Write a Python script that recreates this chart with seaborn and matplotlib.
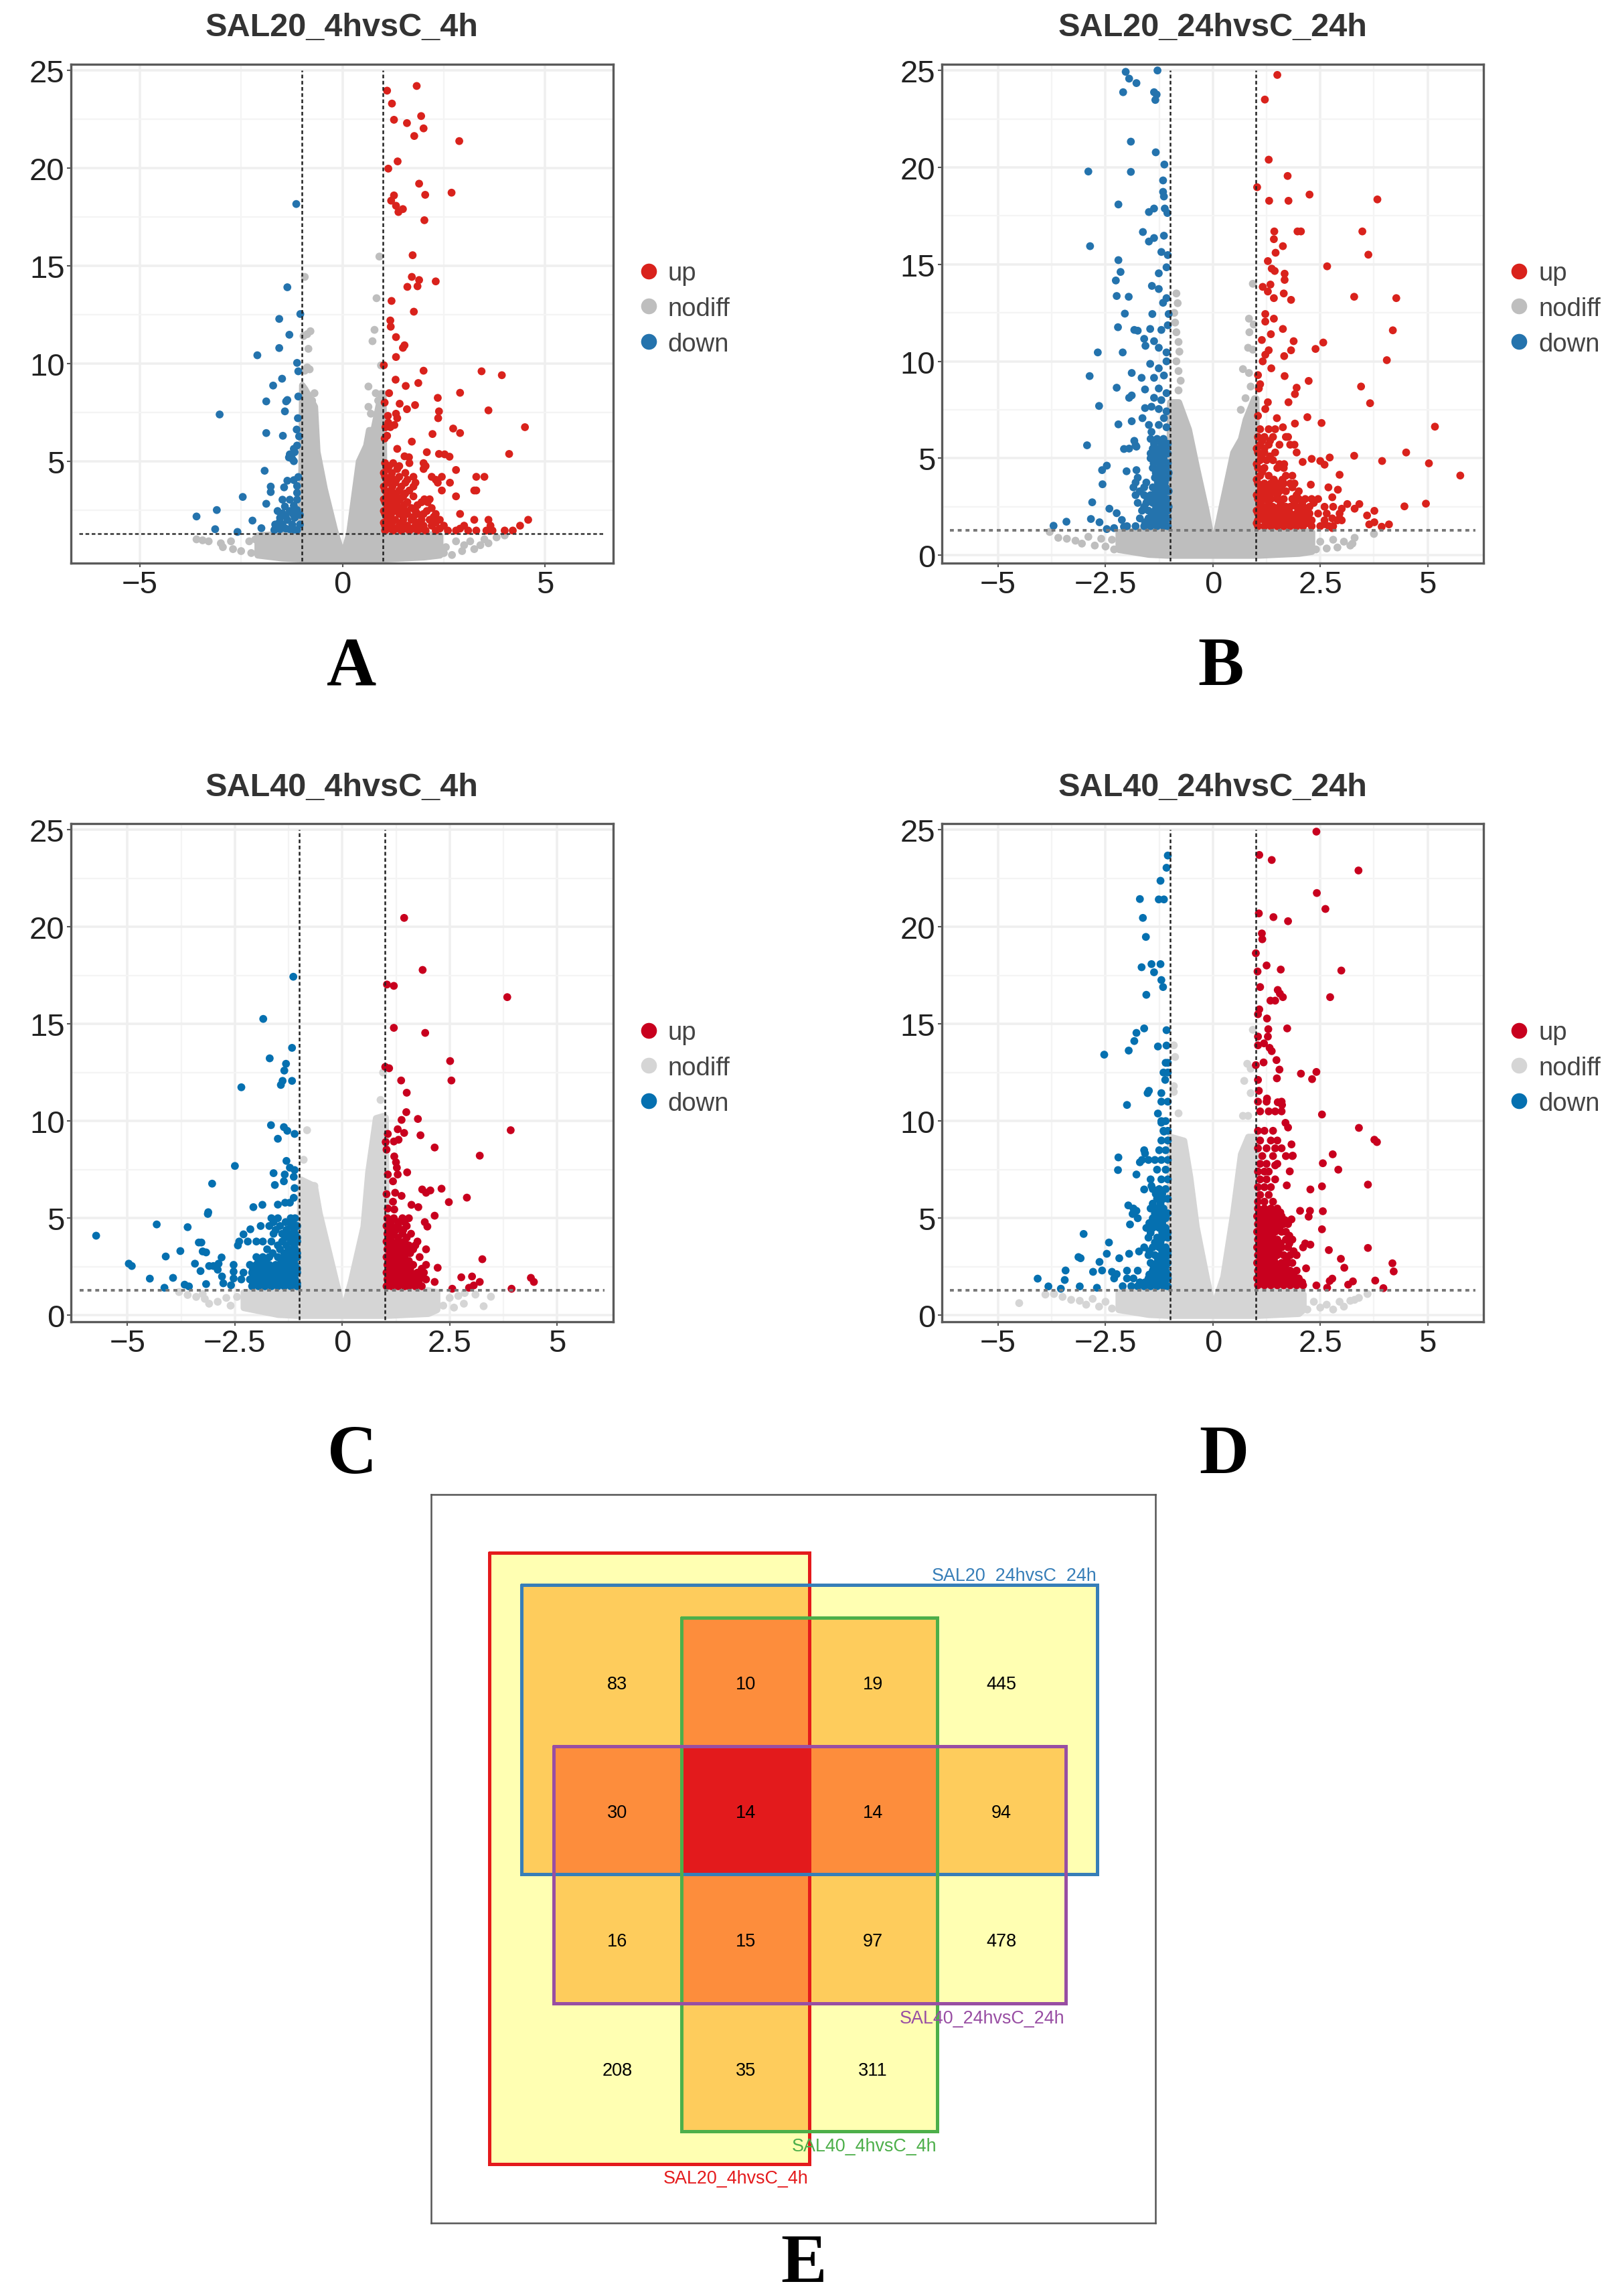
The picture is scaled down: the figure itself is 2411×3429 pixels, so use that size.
import matplotlib
matplotlib.use('Agg')
import matplotlib.pyplot as plt
from matplotlib.colors import ListedColormap
import numpy as np
import pandas as pd
import seaborn as sns

W, H = 2411, 3430

# values: (log2FC, -log10 p), rows are (y, [x, x, ...]) for the dense clusters
a_up = [(1.10,23.96),(1.83,24.2),(1.22,23.3),(1.94,22.66),(1.27,22.47),(1.59,22.3),(2.0,22.03),(1.77,21.64),(2.88,21.38),
        (1.36,20.34),(1.13,19.97),(1.89,19.2),(2.69,18.74),(2.04,18.63),(1.27,18.6),(1.2,18.33),(1.32,18.07),(1.49,17.9),
        (1.38,17.75),(2.02,17.33),(1.73,15.54),(1.71,14.43),(1.89,14.27),(2.3,14.2),(1.6,13.92),(1.85,13.95),(1.21,13.2),
        (1.76,12.65),(1.18,12.2),(1.19,11.88),(1.32,11.35),(1.53,10.93),(1.49,10.8),(1.32,10.33),(1.02,9.91),(2.0,9.63),
        (3.43,9.6),(3.93,9.4),(1.31,9.17),(1.87,9.0),(1.56,8.85),(1.15,8.48),(2.9,8.5),(2.35,8.24),(1.04,8.0),(1.41,7.94),
        (1.79,7.87),(1.59,7.66),(3.6,7.6),(1.32,7.43),(2.38,7.55),(1.12,7.32),(2.36,7.2),(1.35,7.2),(1.13,6.97),(4.5,6.74),
        (1.28,6.85),(1.06,6.74),(1.18,6.74),(2.73,6.67),(2.22,6.39),(2.9,6.44),(1.04,6.16),(1.1,6.3),(1.71,6.0),(1.35,5.63),
        (2.08,5.46),(4.11,5.37),(2.38,5.37),(2.52,5.35),(2.64,5.23),(1.53,5.25),(1.64,5.2),(2.0,4.9),(2.05,4.75),(2.8,4.55)]
a_up_rows = [(4.9,[1.05,1.25,1.65]),(4.75,[1.15,1.4]),(4.6,[1.1,1.35,2.0]),(4.4,[1.02,1.22,1.55]),(4.2,[1.05,1.2,1.4,1.75,2.2,2.45,3.3,3.5]),
             (4.05,[1.15,1.33,1.6,2.3]),(3.9,[1.1,1.3,1.55,1.8,2.35,2.65]),(3.7,[1.02,1.23,1.45,1.75]),(3.5,[1.05,1.2,1.4,1.65,2.45,3.25,3.3]),
             (3.35,[1.15,1.33,1.55]),(3.2,[1.1,1.3,1.5,1.75,2.8]),(3.05,[1.02,1.23,1.42,2.02,2.15]),(2.9,[1.05,1.2,1.35,1.6,1.95,2.1]),
             (2.75,[1.15,1.3,1.52,1.85]),(2.6,[1.1,1.25,1.45,1.7,2.2]),(2.45,[1.02,1.33,1.55,1.8,2.08]),(2.3,[1.05,1.2,1.4,1.6,1.85,2.0,2.3,2.9]),
             (2.15,[1.15,1.5,1.75,2.25]),(2.0,[1.1,1.3,1.5,1.7,1.95,2.15,2.4,3.25,3.6,4.58]),(1.85,[1.02,1.22,1.45,1.85,2.3]),
             (1.7,[1.05,1.2,1.4,1.6,1.8,2.0,2.2,2.5,3.0,3.65,4.38]),(1.55,[1.12,1.32,1.52,1.72,1.95,2.4,2.9]),
             (1.45,[1.05,1.25,1.45,1.65,1.85,2.05,2.3,2.6,2.8,3.1,3.3,3.55,3.7,4.0,4.2])]
a_down = [(-1.14,18.16),(-1.36,13.9),(-1.04,12.53),(-1.56,12.28),(-1.31,11.47),(-1.56,10.79),(-2.1,10.42),(-1.12,10.03),
          (-1.09,9.6),(-1.49,9.22),(-1.71,8.87),(-1.09,8.31),(-1.36,8.13),(-1.39,8.06),(-1.88,8.06),(-1.42,7.55),(-3.03,7.39),
          (-1.1,7.2),(-1.13,6.62),(-1.88,6.44),(-1.47,6.3),(-1.07,6.27),(-1.12,5.8),(-1.2,5.63),(-1.3,5.35),(-1.18,5.46),
          (-1.24,5.12),(-1.32,5.19),(-1.2,5.0),(-1.92,4.51),(-1.09,4.19),(-1.36,4.0),(-1.2,4.03),(-1.77,3.7),(-1.44,3.66),
          (-1.77,3.42),(-1.12,3.73),(-1.12,3.38),(-2.46,3.17),(-1.48,3.03),(-1.3,3.03),(-1.12,3.03),(-1.88,2.82),(-1.42,2.68),
          (-1.2,2.73),(-3.1,2.5),(-1.6,2.45),(-1.48,2.33),(-1.3,2.45),(-1.12,2.5),(-3.6,2.17),(-1.18,2.1),(-1.36,1.99),
          (-1.54,2.1),(-2.22,1.96),(-1.05,1.76),(-1.24,1.76),(-1.48,1.76),(-1.66,1.76),(-3.14,1.52),(-2.0,1.57),(-2.59,1.38),
          (-1.54,1.52),(-1.3,1.52),(-1.12,1.48),(-1.68,1.48),(-1.4,2.2),(-1.22,2.3),(-1.55,1.9),(-1.05,2.25),(-1.2,1.5),(-1.4,1.55)]
a_down_rows = []
a_gray = [(-0.93,14.43),(0.91,15.47),(0.84,13.34),(0.79,11.72),(-0.87,11.5),(-0.79,11.65),(-0.96,11.4),(0.74,11.14),
          (-0.84,10.75),(0.95,9.9),(-0.87,9.8),(-0.93,9.63),(-0.81,9.7),(0.64,8.82),(0.82,8.48),(0.88,8.1),(0.64,7.78),
          (0.7,7.43),(-0.69,8.48),(-0.75,8.1),(-3.6,1.0),(-3.45,0.95),(-3.3,0.9),(-3.0,0.8),(-2.95,0.6),(-2.75,0.9),(-2.7,0.5),
          (-2.5,0.4),(-2.3,0.9),(-2.25,0.3),(-2.15,1.0),(2.5,0.3),(2.55,0.6),(2.7,0.2),(2.8,0.9),(2.95,0.4),(3.0,0.7),(3.15,0.9),
          (3.25,0.5),(3.4,0.7),(3.5,1.0),(3.6,0.8),(3.8,1.1),(4.0,1.2)]
a_env_x = [-2.1,-1.5,-1.03,-1.0,-0.93,-0.69,-0.63,-0.45,-0.2,0,0.16,0.4,0.58,0.65,0.76,0.95,1.0,1.03,1.5,2,2.4]
a_env_hi = [1.2,1.3,1.3,8.9,8.7,7.8,5.5,3.6,1.5,0.15,1.3,5,5.8,6.6,6.6,8.5,8.5,1.3,1.3,1.3,1.2]
a_env_lo = [0.2,0.05,0,0,0,0,0,0,0,0,0,0,0,0,0,0,0,0,0.05,0.1,0.2]

b_up = [(1.5,24.77),(1.21,23.5),(1.3,20.4),(1.74,19.56),(1.03,18.98),(1.31,18.28),(1.76,18.28),(2.25,18.6),(3.83,18.35),
        (1.43,16.7),(1.97,16.7),(2.05,16.7),(3.48,16.7),(1.42,16.3),(1.63,15.94),(1.46,15.6),(3.62,15.5),(1.28,15.17),(2.66,14.9),
        (1.37,14.78),(1.44,14.66),(1.67,14.52),(1.67,14.2),(1.16,13.84),(1.34,13.96),(1.28,13.6),(1.65,13.5),(1.42,13.26),
        (1.82,13.17),(3.29,13.33),(4.27,13.26),(1.22,12.44),(1.42,12.2),(1.22,12.05),(1.63,11.67),(4.19,11.6),(1.35,11.4),
        (1.14,11.1),(1.88,11.04),(2.57,10.97),(2.39,10.64),(1.3,10.57),(1.22,10.34),(1.82,10.57),(1.66,10.27),(4.05,10.06),
        (1.16,10.0),(1.36,9.64),(1.05,9.29),(1.67,9.24),(2.23,8.99),(1.1,8.82),(1.95,8.64),(3.45,8.7),(1.07,8.6),(1.91,8.31),
        (1.28,7.89),(1.76,7.89),(3.66,7.84),(1.22,7.54),(1.05,7.19),(2.2,7.12),(1.49,7.07),(2.53,6.82),(1.91,6.79),(5.17,6.63),
        (1.63,6.6),(4.5,5.3),(3.29,5.13),(5.03,4.74),(5.76,4.11),(3.94,4.86),(2.72,5.04),(2.09,4.81),(2.3,4.97),(2.5,4.86),
        (2.6,4.67),(2.95,4.15),(2.28,3.64),(2.69,3.5),(2.91,3.38),(2.78,2.99),(4.96,2.66),(4.46,2.52),(3.41,2.64),(3.13,2.64),
        (3.76,2.29),(3.3,2.4),(3.59,2.05),(3.0,2.4),(2.78,1.9),(2.95,1.9),(4.1,1.59),(3.93,1.47),(3.64,1.59),(3.76,1.7),(2.6,1.6),(2.78,1.4)]
b_up_rows = [(6.5,[1.1,1.3,1.45]),(6.1,[1.05,1.2,1.4,1.7,1.75]),(5.9,[1.15,1.33]),(5.7,[1.1,1.3,1.55,1.8,1.9]),(5.5,[1.02,1.2]),(5.3,[1.05,1.2,1.45,1.95]),
             (5.1,[1.13,1.33]),(4.9,[1.1,1.25,1.4]),(4.7,[1.02,1.55,1.66]),(4.5,[1.05,1.2,1.5,1.65]),(4.3,[1.15]),(4.1,[1.1,1.3,1.7,1.85]),(3.9,[1.02,1.42,1.62]),
             (3.7,[1.05,1.2,1.35,1.5,1.65,1.8,1.9]),(3.5,[1.12,1.28,1.45,1.6,1.85]),(3.3,[1.1,1.25,1.4,1.55,1.7,2.0]),(3.1,[1.02,1.18,1.33,1.5,1.95]),
             (2.9,[1.05,1.2,1.35,1.5,1.65,1.85,2.0,2.15,2.3,2.45]),(2.7,[1.12,1.3,1.58,1.9,2.08,2.35]),(2.5,[1.1,1.25,1.4,1.55,1.7,1.8,1.95,2.1,2.25,2.6,2.8]),
             (2.3,[1.02,1.18,1.33,1.47,1.62,1.77,2.03,2.18]),(2.15,[1.05,1.2,1.35,1.5,1.65,1.8,1.95,2.1,2.25,2.45,2.65,2.95]),
             (1.95,[1.12,1.28,1.43,1.58,1.73,1.88,2.03,2.2]),(1.8,[1.05,1.2,1.35,1.5,1.65,1.8,1.95,2.1,2.3,2.6,2.9,3.0]),
             (1.65,[1.02,1.28,1.43,1.58,1.73,1.88,2.03,2.18]),(1.5,[1.05,1.2,1.35,1.5,1.65,1.8,1.95,2.1,2.3,2.5,2.7,2.8])]
b_down = [(-2.03,24.93),(-1.95,24.58),(-1.78,24.35),(-1.29,25.0),(-2.09,23.88),(-1.37,23.88),(-1.34,23.48),(-1.31,23.76),
          (-1.91,21.33),(-1.33,20.78),(-1.13,20.15),(-2.9,19.79),(-1.91,19.77),(-1.16,19.33),(-1.16,18.74),(-1.14,18.5),(-2.2,18.09),
          (-1.37,17.88),(-1.49,17.7),(-1.12,17.88),(-1.06,17.65),(-1.63,16.67),(-1.14,16.48),(-1.37,16.36),(-1.49,16.18),(-2.86,15.94),
          (-1.2,15.64),(-1.05,15.48),(-2.2,15.22),(-1.08,14.85),(-2.15,14.61),(-1.26,14.54),(-2.26,14.17),(-1.42,13.89),(-1.26,13.73),
          (-2.24,13.37),(-1.96,13.33),(-1.08,13.26),(-1.16,13.02),(-2.05,12.46),(-1.41,12.44),(-1.03,12.44),(-2.21,11.76),(-1.83,11.62),
          (-1.75,11.58),(-1.46,11.67),(-1.2,11.62),(-1.05,11.86),(-1.6,11.16),(-1.57,10.8),(-1.37,11.04),(-1.26,10.7),(-2.68,10.46),
          (-2.1,10.46),(-1.08,10.46),(-1.08,10.0),(-1.46,9.87),(-1.26,9.64),(-1.89,9.4),(-2.87,9.24),(-1.66,9.15),(-1.37,9.15),(-1.14,9.27),
          (-2.24,8.64),(-1.58,8.55),(-1.26,8.6),(-1.08,8.36),(-1.89,8.24),(-1.95,8.12),(-1.37,8.12),(-1.2,8.0),(-1.43,7.66),(-2.65,7.7),
          (-1.58,7.59),(-1.26,7.54),(-1.08,7.42),(-1.14,7.07),(-1.64,7.07),(-1.89,6.91),(-2.2,6.75),(-1.49,6.72),(-1.26,6.72),(-1.08,6.6),
          (-1.43,6.36),(-2.93,5.67),(-1.83,5.9),(-1.8,5.67),(-1.95,5.5),(-2.07,5.48),(-1.78,5.6),(-2.47,4.62),(-2.58,4.39),(-2.01,4.33),
          (-1.78,4.39),(-2.57,3.66),(-2.81,2.73),(-2.84,1.87),(-2.41,2.4),(-2.24,2.17),(-2.12,1.82),(-3.71,1.52),(-3.41,1.73),(-2.64,1.7),
          (-2.47,1.35),(-2.3,1.4),(-2.07,1.47)]
b_down_rows = [(6.0,[-1.45,-1.3,-1.15]),(5.75,[-1.37,-1.2,-1.05]),(5.5,[-1.4,-1.25,-1.1]),(5.25,[-1.45,-1.33,-1.18,-1.05]),(5.0,[-1.45,-1.3,-1.15]),
               (4.75,[-1.38,-1.22,-1.05]),(4.5,[-1.4,-1.25,-1.1]),(4.25,[-1.33,-1.18,-1.03]),(4.0,[-1.75,-1.35,-1.2,-1.05]),(3.75,[-1.8,-1.55,-1.28,-1.12]),
               (3.5,[-1.85,-1.6,-1.4,-1.25,-1.1]),(3.3,[-1.7,-1.33,-1.18,-1.03]),(3.1,[-1.8,-1.6,-1.45,-1.3,-1.15]),(2.9,[-1.52,-1.37,-1.22,-1.07]),
               (2.7,[-1.75,-1.55,-1.4,-1.25,-1.1]),(2.5,[-1.6,-1.32,-1.18,-1.03]),(2.3,[-1.65,-1.5,-1.35,-1.2,-1.05]),(2.1,[-1.42,-1.28,-1.12]),
               (1.9,[-1.7,-1.5,-1.35,-1.2,-1.05]),(1.7,[-1.58,-1.42,-1.28,-1.12]),(1.5,[-2.0,-1.8,-1.6,-1.45,-1.3,-1.15,-1.05])]
b_gray = [(-0.85,13.5),(-0.82,13.0),(-0.9,12.5),(-0.88,12.0),(-0.85,11.5),(-0.8,11.0),(-0.78,10.5),(-0.85,10.0),(-0.8,9.5),
          (-0.75,9.0),(-0.8,8.5),(0.93,14.0),(0.84,12.2),(0.95,11.9),(0.85,11.5),(0.82,10.7),(0.93,10.6),(0.7,9.6),(0.84,9.4),
          (0.88,8.7),(0.76,8.1),(0.65,7.5),(3.75,1.1),(-3.8,1.2),(-3.6,0.9),(-3.4,0.85),(-3.2,0.75),(-3.05,0.6),(-2.9,0.95),(-2.75,0.5),
          (-2.6,0.85),(-2.5,0.45),(-2.35,0.8),(-2.3,0.3),(2.4,0.3),(2.5,0.7),(2.65,0.35),(2.8,0.8),(2.9,0.4),(3.05,0.7),(3.2,0.5),(3.3,0.9),(3.25,0.6)]
b_env_x = [-2.2,-1.5,-1.03,-1.0,-0.8,-0.57,-0.39,-0.16,0,0.18,0.47,0.65,0.76,0.96,1.0,1.03,1.5,2,2.3]
b_env_hi = [1.2,1.3,1.3,7.9,7.9,6.5,4.6,2.3,0.4,2.3,5.3,6,7,8.1,8.1,1.3,1.3,1.3,1.2]
b_env_lo = [0.3,0.05,0,0,0,0,0,0,0,0,0,0,0,0,0,0,0.05,0.1,0.2]

c_up = [(1.44,20.46),(1.87,17.78),(1.04,17.03),(1.2,16.96),(3.84,16.38),(1.2,14.8),(1.93,14.54),(2.51,13.09),(1.0,12.79),(1.09,12.72),
        (2.54,12.09),(1.37,12.09),(1.5,11.46),(1.49,10.46),(1.76,10.11),(1.38,10.06),(3.92,9.53),(1.29,9.58),(1.44,9.39),(1.82,9.27),
        (1.06,9.34),(1.31,9.04),(1.2,8.95),(1.01,8.92),(2.15,8.64),(1.03,8.53),(3.2,8.22),(1.21,8.18),(1.25,7.88),(1.27,7.6),(1.51,7.36),
        (1.06,7.25),(1.29,7.25),(1.18,6.9),(1.86,6.48),(1.95,6.31),(2.05,6.43),(2.31,6.52),(2.9,6.06),(1.03,6.24),(1.23,6.31),(1.38,6.15),
        (1.18,5.85),(2.48,5.83),(1.61,5.69),(1.77,5.57),(1.06,5.5),(1.21,5.45),(2.15,5.13),(1.92,4.8),(1.98,4.57),(3.26,2.89),(2.22,2.45),
        (2.77,1.96),(3.02,2.0),(4.39,1.93),(4.46,1.72),(3.2,1.72),(2.15,1.72),(3.06,1.54),(2.95,1.42),(2.56,1.37),(3.94,1.37)]
c_up_rows = [(5.0,[1.05,1.2,1.4,1.55]),(4.8,[1.12,1.3,1.45]),(4.6,[1.03,1.15,1.3,1.5]),(4.4,[1.08,1.25,1.42]),(4.2,[1.05,1.2,1.4,1.6]),(4.0,[1.12,1.3,1.5]),
             (3.8,[1.03,1.15,1.3,1.45,1.75]),(3.6,[1.1,1.22,1.38,1.55,1.7]),(3.4,[1.05,1.2,1.35,1.5,1.65,1.95]),(3.2,[1.12,1.28,1.42,1.58]),
             (3.0,[1.03,1.15,1.3,1.45,1.8]),(2.8,[1.1,1.22,1.38,1.55]),(2.6,[1.05,1.2,1.35,1.5,1.65,1.95]),(2.4,[1.12,1.28,1.42,1.58,1.85]),
             (2.2,[1.03,1.15,1.3,1.45,1.6,1.75,1.9]),(2.0,[1.1,1.22,1.38,1.52,1.68,1.82]),(1.85,[1.05,1.2,1.35,1.5,1.65,1.8,1.95]),
             (1.65,[1.12,1.28,1.42,1.58,1.75]),(1.5,[1.03,1.15,1.3,1.45,1.55,1.7,1.85])]
c_down = [(-1.14,17.43),(-1.84,15.26),(-1.17,13.77),(-1.69,13.23),(-1.31,12.95),(-1.35,12.6),(-1.17,12.07),(-1.39,12.07),(-1.43,11.86),
          (-2.35,11.74),(-1.66,9.79),(-1.36,9.69),(-1.28,9.5),(-1.11,9.34),(-1.5,9.09),(-1.3,7.95),(-2.5,7.69),(-1.22,7.6),(-1.11,7.48),
          (-1.34,7.25),(-1.6,7.32),(-1.13,7.13),(-1.36,6.9),(-3.03,6.78),(-1.57,6.71),(-1.11,6.55),(-1.5,5.7),(-1.33,5.8),(-1.22,5.8),
          (-1.13,6.05),(-2.07,5.57),(-1.86,5.69),(-3.13,5.22),(-3.12,5.31),(-4.32,4.68),(-3.6,4.54),(-5.73,4.1),(-2.14,4.43),(-2.3,4.17),
          (-3.34,3.75),(-3.28,3.75),(-3.77,3.31),(-3.25,3.29),(-3.17,3.24),(-2.43,3.6),(-4.11,3.03),(-2.81,2.98),(-4.97,2.66),(-4.9,2.54),
          (-3.43,2.66),(-3.1,2.54),(-3.0,2.54),(-2.88,2.66),(-3.3,2.28),(-2.9,2.35),(-2.8,2.0),(-2.77,1.65),(-2.53,2.6),(-2.53,2.25),
          (-2.53,1.9),(-2.59,1.55),(-4.48,1.89),(-3.94,1.93),(-3.67,1.58),(-3.57,1.49),(-3.17,1.61),(-4.14,1.42)]
c_down_rows = [(5.0,[-1.1,-1.2,-1.5,-1.65]),(4.8,[-1.15,-1.32,-1.6]),(4.6,[-1.05,-1.2,-1.45,-1.7,-1.9]),(4.4,[-1.12,-1.3,-1.55]),(4.2,[-1.1,-1.25,-1.4,-1.6]),(4.0,[-1.05,-1.18,-1.33]),
               (3.8,[-1.05,-1.2,-1.4,-1.65,-1.85,-2.0,-2.2,-2.4]),(3.6,[-1.12,-1.3,-1.5]),(3.4,[-1.1,-1.25,-1.45,-1.75]),(3.2,[-1.05,-1.18,-1.35,-1.62]),
               (3.0,[-1.05,-1.2,-1.35,-1.5,-1.7,-1.85,-2.0]),(2.8,[-1.12,-1.28,-1.42,-1.78,-1.95]),(2.6,[-1.1,-1.25,-1.4,-1.55,-1.7,-1.85,-2.0,-2.15]),
               (2.4,[-1.05,-1.18,-1.32,-1.48,-1.62,-1.78,-1.93,-2.08]),(2.2,[-1.05,-1.2,-1.35,-1.5,-1.65,-1.8,-1.95,-2.1,-2.3]),
               (2.0,[-1.12,-1.28,-1.42,-1.58,-1.72,-1.88,-2.03]),(1.85,[-1.1,-1.25,-1.4,-1.55,-1.7,-1.85,-2.0,-2.15,-2.35]),
               (1.65,[-1.05,-1.18,-1.32,-1.48,-1.62,-1.78,-1.93,-2.08]),(1.5,[-1.05,-1.2,-1.35,-1.5,-1.65,-1.8,-1.95,-2.1])]
c_gray = [(-0.82,9.53),(-0.9,8.01),(-0.65,6.66),(3.29,0.47),(3.46,0.96),(3.1,1.07),(2.83,0.6),(0.95,12.5),(0.89,11.09),(0.85,9.8),
          (-3.8,1.2),(-3.6,1.05),(-3.4,0.95),(-3.2,0.85),(-3.1,0.6),(-3.25,1.1),(-2.9,0.7),(-2.7,0.9),(-2.6,0.5),(-2.45,0.95),
          (2.35,0.5),(2.5,0.9),(2.6,0.4),(2.7,1.0),(2.85,1.15)]
c_env_x = [-2.3,-1.5,-1.03,-0.97,-0.65,-0.54,-0.31,-0.08,0,0.2,0.49,0.6,0.78,0.95,1.0,1.03,1.5,2,2.2]
c_env_hi = [1.2,1.3,1.3,7.0,6.66,5.27,3.17,1.07,0.14,1.77,4.57,7.36,10.16,10.27,10.2,1.3,1.3,1.3,1.2]
c_env_lo = [0.4,0.05,0,0,0,0,0,0,0,0,0,0,0,0,0,0,0.05,0.1,0.3]

d_up = [(2.41,24.9),(1.08,23.7),(1.37,23.44),(3.39,22.9),(2.42,21.74),(2.62,20.92),(1.07,20.69),(1.41,20.5),(1.75,20.29),(1.14,19.66),
        (1.15,19.36),(1.0,18.64),(1.25,18.01),(1.04,17.7),(1.58,17.8),(2.99,17.75),(1.1,16.9),(1.51,16.75),(1.56,16.56),(2.73,16.38),
        (1.34,16.2),(1.45,16.2),(1.63,16.38),(1.08,15.75),(1.05,15.5),(1.26,15.28),(1.73,14.77),(1.29,14.73),(1.05,14.35),(1.28,14.35),
        (1.05,13.9),(1.19,14.0),(1.32,13.77),(1.37,13.6),(1.48,13.14),(1.18,13.02),(1.0,12.88),(1.55,12.65),(2.05,12.44),(2.41,12.53),
        (2.31,12.16),(1.49,12.2),(1.05,12.12),(1.07,11.56),(1.26,11.16),(1.51,10.97),(1.61,10.83),(2.54,10.34),(3.4,9.65),(3.76,9.04),
        (3.82,8.92),(1.69,9.91),(1.75,9.67),(2.79,8.29),(1.83,8.8),(1.86,8.22),(2.56,7.83),(2.92,7.5),(1.79,7.41),(1.45,7.72),(3.61,6.73),
        (2.54,6.64),(1.72,6.69),(2.27,6.48),(2.03,5.38),(2.26,5.38),(2.56,5.36),(2.23,5.08),(1.83,4.94),(2.54,4.43),(2.15,3.7),(2.27,3.64),
        (3.61,3.47),(2.7,3.36),(2.98,2.91),(4.18,2.68),(4.21,2.26),(3.06,2.45),(2.17,2.42),(2.78,1.89),(2.72,1.77),(3.78,1.79),(3.26,1.75),
        (3.15,1.58),(2.41,1.54),(2.66,1.42),(3.97,1.4)]
d_up_rows = [(11.0,[1.05,1.25,1.6]),(10.5,[1.1,1.3,1.45,1.6]),(9.5,[1.05,1.2,1.4]),(9.0,[1.1,1.35,1.5]),(8.6,[1.05,1.25,1.45,1.6]),
             (8.2,[1.15,1.4,1.7,1.85]),(7.8,[1.1,1.25,1.5]),(7.4,[1.05,1.2,1.3]),(7.0,[1.1,1.25,1.45]),(6.6,[1.05,1.2,1.35]),(6.2,[1.1,1.3]),
             (5.85,[1.05,1.2,1.4]),(5.5,[1.05,1.2,1.35,1.5]),(5.3,[1.12,1.28,1.42,1.57]),(5.1,[1.03,1.15,1.3,1.45,1.6]),(4.9,[1.1,1.23,1.38,1.53,1.68]),
             (4.7,[1.05,1.2,1.35,1.5,1.65,1.75]),(4.5,[1.12,1.28,1.42,1.55]),(4.3,[1.03,1.15,1.3,1.45,1.6,1.7]),(4.1,[1.1,1.23,1.38,1.78]),
             (3.9,[1.05,1.2,1.35,1.5,1.7,1.85]),(3.7,[1.12,1.28,1.42,1.58,1.78]),(3.5,[1.03,1.15,1.3,1.45,1.6,1.75,2.1]),(3.3,[1.1,1.23,1.38,1.52,1.88]),
             (3.1,[1.05,1.2,1.35,1.5,1.65,1.8,1.95]),(2.9,[1.12,1.28,1.42,1.72]),(2.7,[1.03,1.15,1.3,1.45,1.6,1.75,1.85]),(2.5,[1.1,1.23,1.38,1.52,1.68]),
             (2.3,[1.05,1.2,1.35,1.5,1.65,1.8,1.95]),(2.1,[1.12,1.28,1.42,1.58,1.72,1.88]),(1.9,[1.03,1.15,1.3,1.45,1.6,1.75,1.9,2.0]),
             (1.7,[1.1,1.23,1.38,1.52,1.68,1.83,2.08]),(1.55,[1.05,1.2,1.35,1.5,1.65,1.8,1.95,2.1])]
d_down = [(-1.05,23.67),(-1.08,23.04),(-1.22,22.37),(-1.7,21.43),(-1.26,21.41),(-1.14,21.41),(-1.63,20.46),(-1.56,19.48),(-1.66,17.92),
          (-1.43,18.08),(-1.22,18.08),(-1.37,17.66),(-1.2,17.26),(-1.16,16.9),(-1.55,16.5),(-1.08,14.68),(-1.6,14.77),(-1.78,14.54),
          (-1.83,14.12),(-1.28,13.84),(-1.08,13.89),(-1.96,13.63),(-2.53,13.42),(-1.49,11.56),(-1.52,11.44),(-1.2,11.44),(-1.11,12.12),
          (-2.0,10.83),(-1.28,10.39),(-1.2,9.92),(-1.14,9.46),(-1.58,8.34),(-1.7,7.88),(-1.78,7.25),(-2.2,8.13),(-2.21,7.48),(-1.6,6.48),
          (-1.43,6.66),(-1.97,5.66),(-1.78,5.38),(-1.87,5.22),(-1.93,4.68),(-3.01,4.19),(-2.42,3.75),(-1.95,3.17),(-1.72,3.29),(-2.18,2.94),
          (-2.47,3.17),(-3.13,3.0),(-3.08,2.94),(-2.64,2.75),(-3.43,2.31),(-2.79,2.24),(-2.58,2.31),(-2.35,2.24),(-2.24,2.12),(-4.08,1.89),
          (-3.45,1.82),(-3.83,1.49),(-3.54,1.37),(-3.1,1.49),(-2.7,1.42)]
d_down_rows = [(13.0,[-1.1,-1.05]),(12.5,[-1.15,-1.05]),(11.0,[-1.2,-1.05]),(10.0,[-1.2,-1.1]),(9.5,[-1.15,-1.05]),(9.0,[-1.2,-1.05]),
               (8.5,[-1.1,-1.25,-1.6]),(8.0,[-1.2,-1.35,-1.05,-1.5,-1.65]),(7.5,[-1.1,-1.3]),(7.0,[-1.45,-1.2,-1.05]),(6.5,[-1.4,-1.25,-1.1]),
               (6.25,[-1.18,-1.33]),(6.0,[-1.3,-1.15,-1.05]),(5.75,[-1.22,-1.4]),(5.5,[-1.45,-1.3,-1.15,-1.85]),(5.25,[-1.35,-1.2,-1.05]),
               (5.0,[-1.4,-1.25,-1.1,-1.75]),(4.75,[-1.48,-1.32,-1.18]),(4.5,[-1.55,-1.4,-1.25,-1.1]),(4.25,[-1.45,-1.18,-1.05]),(4.0,[-1.5,-1.3,-1.15,-1.05]),
               (3.75,[-1.35,-1.22]),(3.5,[-1.6,-1.4,-1.25,-1.1]),(3.3,[-1.48,-1.18,-1.05]),(3.1,[-1.5,-1.35,-1.2,-1.05]),(2.9,[-1.28,-1.12]),
               (2.7,[-1.45,-1.3,-1.15,-1.05]),(2.5,[-1.38,-1.22,-1.1]),(2.3,[-1.4,-1.25,-1.1,-2.0,-1.75]),(2.1,[-1.48,-1.32,-1.18,-1.05]),
               (1.9,[-1.5,-1.35,-1.2,-1.05,-1.85,-2.0,-2.3]),(1.7,[-1.7,-1.58,-1.42,-1.28,-1.12]),(1.5,[-2.1,-1.9,-1.75,-1.6,-1.45,-1.3,-1.15,-1.05])]
d_gray = [(-0.91,13.9),(-0.88,13.3),(-0.91,11.8),(-0.91,11.5),(-0.8,10.4),(0.93,14.7),(0.8,12.95),(0.88,12.7),(0.73,12.07),(0.88,11.44),
          (0.7,10.27),(0.82,10.27),(-4.51,0.63),(-3.9,1.07),(3.6,1.1),(3.3,0.8),(-3.7,1.1),(-3.5,0.95),(-3.3,0.8),(-3.1,0.75),(-2.95,0.55),
          (-2.8,0.85),(-2.65,0.45),(-2.5,0.7),(-2.35,0.35),(2.2,0.3),(2.35,0.7),(2.5,0.4),(2.65,0.55),(2.8,0.3),(2.95,0.7),(3.05,0.45),(3.2,0.75),(3.4,0.9)]
d_env_x = [-2.2,-1.5,-1.03,-1.0,-0.68,-0.54,-0.39,-0.16,0,0.24,0.47,0.65,0.82,0.96,1.0,1.03,1.5,2,2.1]
d_env_hi = [1.2,1.3,1.3,9.2,9.0,7.13,4.57,2.0,0.37,2.0,5.27,8.3,9.2,9.2,9.2,1.3,1.3,1.3,1.1]
d_env_lo = [0.3,0.05,0,0,0,0,0,0,0,0,0,0,0,0,0,0,0.05,0.1,0.3]

x_ticks_wide = [-5, 0, 5]
x_labels_wide = ['\u22125', '0', '5']
x_minor_wide = [-2.5, 2.5]
x_ticks = [-5, -2.5, 0, 2.5, 5]
x_labels = ['\u22125', '\u22122.5', '0', '2.5', '5']
x_minor = [-3.75, -1.25, 1.25, 3.75]

# venn panel: set names, boxes (x0, x1, y0, y1) and the counts of the middle cells
set_names = ['SAL20_4hvsC_4h', 'SAL20_24hvsC_24h', 'SAL40_4hvsC_4h', 'SAL40_24hvsC_24h']
set_boxes = [(152, 810, 130, 1313), (218, 1402, 192, 752), (548, 1073, 255, 1250), (285, 1337, 504, 1002)]
set_colors = ['#E41A1C', '#377EB8', '#4DAF4A', '#984EA3']
venn_counts = [[83, 10, 19, 445], [30, 14, 14, 94], [16, 15, 97, 478], [208, 35, 311, None]]
venn_fills = ['#FFFFFF', '#FFFFB2', '#FECC5C', '#FD8D3C', '#E31A1C']

sns.set_theme(style='white')
plt.rcParams['font.family'] = ['Liberation Sans', 'DejaVu Sans']

fig = plt.figure(figsize=(W / 100, H / 100), dpi=100, facecolor='white')


def px_axes(left, top, right, bottom):
    return fig.add_axes([left / W, 1 - bottom / H, (right - left) / W, (bottom - top) / H])


def expand(points, rows):
    return list(points) + [(x, y) for y, xs in rows for x in xs]


def volcano(box, title, letter, letter_xy, up, down, gray, env, xlim, ylim, xt, xl, xm, yt, colors, thin_h):
    ax = px_axes(*box)
    frame = pd.DataFrame(
        [(x, y, 'nodiff') for x, y in gray] + [(x, y, 'down') for x, y in down] + [(x, y, 'up') for x, y in up],
        columns=['log2fc', 'logp', 'group'])

    # the solid grey part of the volcano is too dense for single points, so its outline is filled
    ax.fill_between(env[0], env[2], env[1], color=colors['nodiff'], lw=7, joinstyle='round', zorder=2)
    sns.scatterplot(data=frame, x='log2fc', y='logp', hue='group', hue_order=['up', 'nodiff', 'down'],
                    palette=colors, s=72, linewidth=0, ax=ax, zorder=3)

    ax.set_xlim(*xlim)
    ax.set_ylim(*ylim)
    ax.set_xticks(xt)
    ax.set_xticklabels(xl)
    ax.set_xticks(xm, minor=True)
    ax.set_yticks(yt)
    ax.set_yticks([2.5, 7.5, 12.5, 17.5, 22.5], minor=True)
    ax.grid(True, which='major', color='#EFEFEF', lw=2.6, zorder=0)
    ax.grid(True, which='minor', color='#F4F4F4', lw=1.6, zorder=0)
    ax.set_axisbelow(True)
    ax.tick_params(axis='both', which='major', labelsize=34, labelcolor='#222222', length=4, width=1.5,
                   color='#555555', pad=3, left=True, bottom=True)
    ax.tick_params(axis='both', which='minor', length=0)
    ax.set_xlabel('')
    ax.set_ylabel('')
    for side in ax.spines.values():
        side.set_edgecolor('#5A5A5A')
        side.set_linewidth(2.4)

    # cut-off lines
    ax.vlines([-1, 1], ylim[0] + 0.1, 25, color='#222222', lw=1.8, linestyles=(0, (2.2, 1.5)), zorder=4)
    if thin_h:
        ax.hlines(1.3, xlim[0] + 0.19, xlim[1] - 0.19, color='#333333', lw=1.8, linestyles=(0, (2.2, 1.5)), zorder=4)
    else:
        ax.hlines(1.3, xlim[0] + 0.19, xlim[1] - 0.19, color='#777777', lw=2.8, linestyles=(0, (1.5, 1.5)), zorder=4)

    # title goes in the middle of the panel and uses figure pixels
    fig.text((box[0] + box[2]) / 2 / W, 1 - (box[1] - 55) / H, title, ha='center', va='center',
             fontsize=35, fontweight='bold', color='#333333')

    sns.move_legend(ax, 'center left', bbox_to_anchor=(1.0425, 0.51), frameon=False, title=None,
                    fontsize=27.5, labelspacing=0.44, handlelength=1, handletextpad=0.25, borderpad=0, borderaxespad=0)
    legend = ax.get_legend()
    for handle in legend.legend_handles:
        handle.set_markersize(17)
    for label in legend.get_texts():
        label.set_color('#444444')

    fig.text(letter_xy[0] / W, 1 - letter_xy[1] / H, letter, ha='center', va='center', fontsize=74,
             fontweight='bold', family=['Liberation Serif', 'DejaVu Serif'], color='black')
    return ax


colors_ab = {'up': '#D9221C', 'nodiff': '#BEBEBE', 'down': '#2473AD'}
colors_cd = {'up': '#C8001E', 'nodiff': '#D5D5D5', 'down': '#0570B0'}
y_ticks = [0, 5, 10, 15, 20, 25]

volcano((106.4, 96.7, 915.6, 841.8), 'SAL20_4hvsC_4h', 'A', (525, 999), expand(a_up, a_up_rows), expand(a_down, a_down_rows),
        a_gray, (a_env_x, a_env_hi, a_env_lo), (-6.69, 6.67), (-0.21, 25.32), x_ticks_wide, x_labels_wide, x_minor_wide,
        y_ticks[1:], colors_ab, True)
volcano((1407, 96.7, 2216, 841.8), 'SAL20_24hvsC_24h', 'B', (1824, 998), expand(b_up, b_up_rows), expand(b_down, b_down_rows),
        b_gray, (b_env_x, b_env_hi, b_env_lo), (-6.31, 6.30), (-0.4, 25.33), x_ticks, x_labels, x_minor,
        y_ticks, colors_ab, False)
volcano((106.4, 1231.4, 915.6, 1975), 'SAL40_4hvsC_4h', 'C', (526, 2175), expand(c_up, c_up_rows), expand(c_down, c_down_rows),
        c_gray, (c_env_x, c_env_hi, c_env_lo), (-6.31, 6.30), (-0.33, 25.3), x_ticks, x_labels, x_minor,
        y_ticks, colors_cd, False)
volcano((1407, 1231.4, 2216, 1975), 'SAL40_24hvsC_24h', 'D', (1828, 2175), expand(d_up, d_up_rows), expand(d_down, d_down_rows),
        d_gray, (d_env_x, d_env_hi, d_env_lo), (-6.31, 6.30), (-0.33, 25.3), x_ticks, x_labels, x_minor,
        y_ticks, colors_cd, False)

# venn panel: colour of a cell comes from how many of the boxes cover it
ax = px_axes(644, 2233, 1726, 3321)
x_edges = sorted({b[0] for b in set_boxes} | {b[1] for b in set_boxes})
y_edges = sorted({b[2] for b in set_boxes} | {b[3] for b in set_boxes})
overlap = np.zeros((len(y_edges) - 1, len(x_edges) - 1))
for x0, x1, y0, y1 in set_boxes:
    for i in range(len(y_edges) - 1):
        for j in range(len(x_edges) - 1):
            if x0 <= x_edges[j] and x_edges[j + 1] <= x1 and y0 <= y_edges[i] and y_edges[i + 1] <= y1:
                overlap[i, j] += 1
ax.pcolormesh(x_edges, y_edges, overlap, cmap=ListedColormap(venn_fills), vmin=-0.5, vmax=4.5)
ax.set_xlim(33, 1521)
ax.set_ylim(1427, 17)
ax.set_xticks([])
ax.set_yticks([])
for side in ax.spines.values():
    side.set_edgecolor('#555555')
    side.set_linewidth(1.8)

for (x0, x1, y0, y1), color in zip(set_boxes, set_colors):
    ax.plot([x0, x1, x1, x0, x0], [y0, y0, y1, y1, y0], color=color, lw=3.6, solid_joinstyle='miter')

col_mid = [416, 679, 941, 1204]
row_mid = [384, 633, 882, 1131]
for row, y in zip(venn_counts, row_mid):
    for count, x in zip(row, col_mid):
        if count is not None:
            ax.text(x, y, str(count), ha='center', va='center', fontsize=19.5, color='black')

name_spots = [(808, 1340), (1400, 174), (1072, 1278), (1335, 1030)]
for name, (x, y), color in zip(set_names, name_spots, set_colors):
    ax.text(x, y, name, ha='right', va='center', fontsize=19.4, color=color)

fig.text(1200 / W, 1 - 3383 / H, 'E', ha='center', va='center', fontsize=74, fontweight='bold',
         family=['Liberation Serif', 'DejaVu Serif'], color='black')

fig.savefig('out.png', dpi=100)
